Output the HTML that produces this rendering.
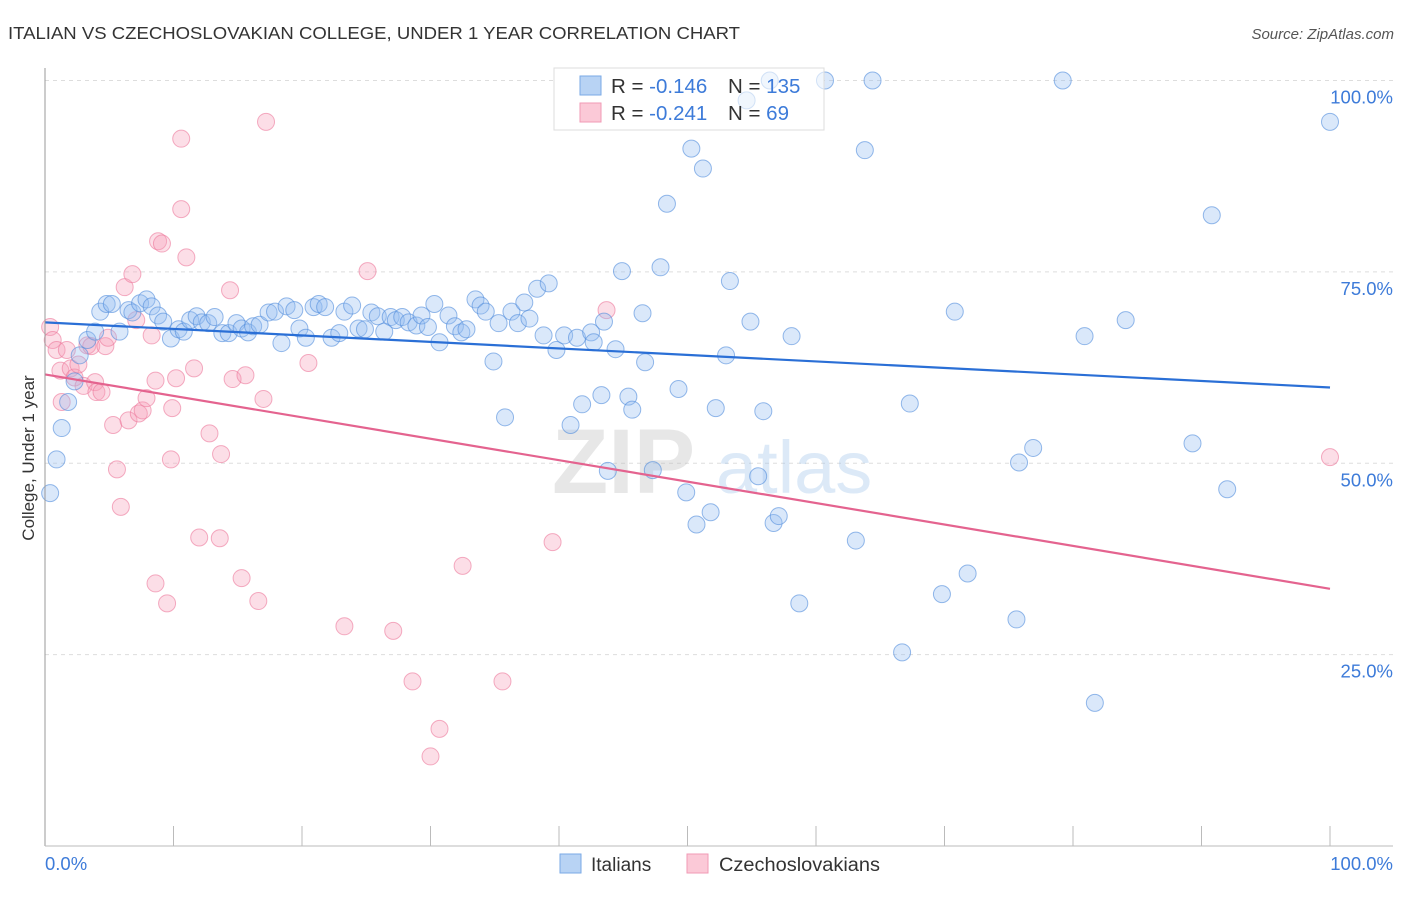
<!DOCTYPE html>
<html><head><meta charset="utf-8"><style>
body{margin:0;background:#fff;font-family:"Liberation Sans",sans-serif;}
svg text{font-family:"Liberation Sans",sans-serif;}
</style></head><body>
<svg width="1406" height="892" xmlns="http://www.w3.org/2000/svg">
<text x="8" y="39" font-size="17.5" fill="#333" textLength="732" lengthAdjust="spacingAndGlyphs">ITALIAN VS CZECHOSLOVAKIAN COLLEGE, UNDER 1 YEAR CORRELATION CHART</text>
<text x="1394" y="39" font-size="15" fill="#555" font-style="italic" text-anchor="end">Source: ZipAtlas.com</text>
<g id="grid"></g>
<g opacity="0.35">
<text x="552" y="493" font-size="92" fill="#bbb" font-family="Liberation Serif" font-weight="bold">ZIP</text>
<text x="716" y="493" font-size="74" fill="#9cc3ea">atlas</text>
</g>
<g>
<rect x="554" y="68" width="270" height="62" fill="#fff" stroke="#ddd"/>
</g>
<g id="pts"></g>
<g id="lines"></g>
<g>
<rect x="554" y="68" width="270" height="62" fill="rgba(255,255,255,0.6)" stroke="#ddd"/>
<rect x="580" y="76" width="21" height="19" fill="#b8d3f4" stroke="#7aaae6"/>
<rect x="580" y="103" width="21" height="19" fill="#fbc9d7" stroke="#f09ab5"/>
<text x="611" y="93" font-size="20.5" fill="#333">R = <tspan fill="#3d7bd9">-0.146</tspan></text>
<text x="728" y="93" font-size="20.5" fill="#333">N = <tspan fill="#3d7bd9">135</tspan></text>
<text x="611" y="120" font-size="20.5" fill="#333">R = <tspan fill="#3d7bd9">-0.241</tspan></text>
<text x="728" y="120" font-size="20.5" fill="#333">N = <tspan fill="#3d7bd9"> 69</tspan></text>
</g>
<line x1="45" y1="68" x2="45" y2="846" stroke="#999"/>
<line x1="45" y1="846" x2="1393" y2="846" stroke="#bbb"/>
<g id="axes"></g>
<text x="34" y="458" font-size="17" fill="#333" text-anchor="middle" transform="rotate(-90 34 458)">College, Under 1 year</text>
<text x="45" y="870" font-size="18.5" fill="#3d7bd9">0.0%</text>
<text x="1393" y="870" font-size="18.5" fill="#3d7bd9" text-anchor="end">100.0%</text>
<g>
<rect x="560" y="854" width="21" height="19" fill="#b8d3f4" stroke="#7aaae6"/>
<text x="591" y="871" font-size="19" fill="#333">Italians</text></g>
<g>
<rect x="687" y="854" width="21" height="19" fill="#fbc9d7" stroke="#f09ab5"/>
<text x="719" y="871" font-size="19" fill="#333" textLength="161" lengthAdjust="spacingAndGlyphs">Czechoslovakians</text></g>
</svg>
<script>
const yTicks=[25,50,75,100];
const yTickLabels=["25.0%","50.0%","75.0%","100.0%"];
const xTicks=[10,20,30,40,50,60,70,80,90,100];
const italiansX=[0.4,0.9,1.3,1.8,2.3,2.7,3.3,3.9,4.3,4.8,5.2,5.8,6.5,6.8,7.4,7.9,8.3,8.8,9.2,9.8,10.4,10.8,11.3,11.8,12.2,12.7,13.2,13.8,14.3,14.9,15.3,15.8,16.2,16.7,17.4,17.9,18.4,18.8,19.4,19.8,20.3,20.9,21.3,21.8,22.3,22.9,23.3,23.9,24.4,24.9,25.4,25.9,26.4,26.9,27.3,27.8,28.3,28.9,29.3,29.8,30.3,30.7,31.4,31.9,32.4,32.8,33.5,33.9,34.3,34.9,35.3,35.8,36.3,36.8,37.3,37.7,38.3,38.8,39.2,39.8,40.4,40.9,41.4,41.8,42.5,42.7,43.3,43.5,43.8,44.4,44.9,45.4,45.7,46.5,46.7,47.3,47.9,48.4,49.3,49.9,50.3,50.7,51.2,51.8,52.2,53.3,53.0,54.6,54.9,55.5,55.9,56.4,56.7,57.1,58.1,58.7,60.7,63.1,63.8,64.4,66.7,67.3,69.8,70.8,71.8,75.6,75.8,76.9,79.2,80.9,81.7,84.1,89.3,90.8,92.0,100];
const italiansY=[46.1,50.5,54.6,58.0,60.7,64.1,66.1,67.2,69.8,70.8,70.8,67.2,70.0,69.7,70.9,71.4,70.5,69.3,68.5,66.3,67.5,67.2,68.7,69.2,68.4,68.3,69.1,67.0,67.0,68.3,67.6,67.1,67.9,68.1,69.7,69.8,65.7,70.5,70.0,67.6,66.4,70.4,70.8,70.4,66.4,67.0,69.8,70.6,67.6,67.5,69.7,69.2,67.2,69.1,68.7,69.1,68.4,68.0,69.3,67.8,70.8,65.8,69.3,67.9,67.1,67.5,71.4,70.6,69.8,63.3,68.3,56.0,69.8,68.3,71.0,68.9,72.8,66.7,73.5,64.8,66.7,55.0,66.4,57.7,67.1,65.8,58.9,68.5,49.0,64.9,75.1,58.7,57.0,69.6,63.2,49.1,75.6,83.9,59.7,46.2,91.1,42.0,88.5,43.6,57.2,73.8,64.1,97.4,68.5,48.3,56.8,100,42.2,43.1,66.6,31.7,100,39.9,90.9,100,25.3,57.8,32.9,69.8,35.6,29.6,50.1,52.0,100,66.6,18.7,68.7,52.6,82.4,46.6,94.6];
const czechX=[0.4,0.6,0.9,1.2,1.3,1.7,2.0,2.3,2.6,3.0,3.3,3.6,3.9,4.0,4.4,4.7,4.9,5.3,5.6,5.9,6.2,6.5,6.8,7.1,7.3,7.6,7.9,8.3,8.6,8.6,8.8,9.1,9.5,9.8,9.9,10.2,10.6,10.6,11.0,11.6,12.0,12.8,13.6,13.7,14.4,14.6,15.3,15.6,16.6,17.0,17.2,20.5,23.3,25.1,27.1,28.6,30.7,30.0,32.5,35.6,39.5,43.7,100];
const czechY=[67.8,66.1,64.8,62.1,58.0,64.8,62.4,61.2,62.9,60.1,65.4,65.3,60.6,59.3,59.3,65.3,66.4,55.0,49.2,44.3,73.0,55.6,74.7,68.7,56.5,56.9,58.5,66.7,60.8,34.3,79.0,78.7,31.7,50.5,57.2,61.1,92.4,83.2,76.9,62.4,40.3,53.9,40.2,51.2,72.6,61.0,35.0,61.5,32.0,58.4,94.6,63.1,28.7,75.1,28.1,21.5,15.3,11.7,36.6,21.5,39.7,70.0,50.8];
const trendX=[0,100];
const italiansTrend=[68.4,59.9];
const czechTrend=[61.6,33.6];
const NS="http://www.w3.org/2000/svg";
const sx=v=>45+v*12.85;
const sy=v=>846-v*7.655;
function mk(t,p,a){const e=document.createElementNS(NS,t);for(const k in a)e.setAttribute(k,a[k]);p.appendChild(e);return e;}
const grid=document.getElementById('grid'),axes=document.getElementById('axes'),pts=document.getElementById('pts'),lines=document.getElementById('lines');
yTicks.forEach((v,i)=>{
 const l=mk('line',grid,{x1:45,x2:1393,y1:sy(v),y2:sy(v),stroke:'#ddd','stroke-dasharray':'4,4'});
 
 
 const t=mk('text',axes,{x:1393,y:sy(v)+23,'font-size':18.5,fill:'#3d7bd9','text-anchor':'end'});
 t.textContent=yTickLabels[i];
 
 
});
xTicks.forEach(v=>{
 const l=mk('line',axes,{x1:sx(v),x2:sx(v),y1:826,y2:846,stroke:'#bbb'});
 
 
});
czechX.forEach((x,i)=>{
 const c=mk('circle',pts,{cx:sx(x),cy:sy(czechY[i]),r:8.5,fill:'rgba(246,160,186,0.35)',stroke:'rgba(236,120,155,0.6)','stroke-width':1});
 
 
});
italiansX.forEach((x,i)=>{
 const c=mk('circle',pts,{cx:sx(x),cy:sy(italiansY[i]),r:8.5,fill:'rgba(150,190,240,0.35)',stroke:'rgba(80,140,220,0.6)','stroke-width':1});
 
 
});
const bl=mk('line',lines,{x1:sx(trendX[0]),y1:sy(italiansTrend[0]),x2:sx(trendX[1]),y2:sy(italiansTrend[1]),stroke:'#2a6fd6','stroke-width':2.2});


const pl=mk('line',lines,{x1:sx(trendX[0]),y1:sy(czechTrend[0]),x2:sx(trendX[1]),y2:sy(czechTrend[1]),stroke:'#e4638f','stroke-width':2.2});


</script>
</body></html>
